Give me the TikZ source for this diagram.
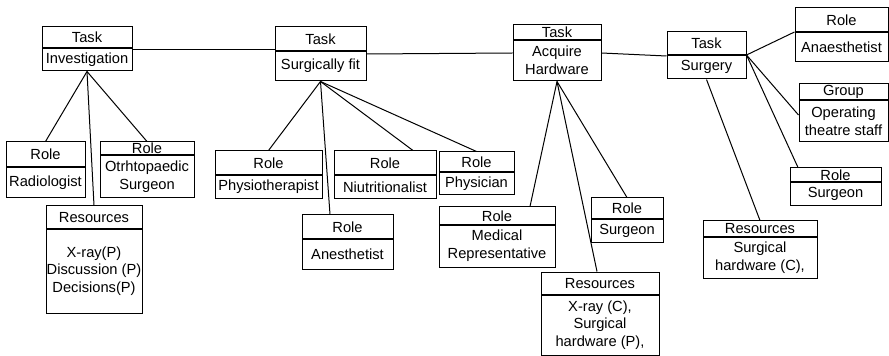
\documentclass[tikz,border=0pt]{standalone}
\usepackage{fontspec}
\setmainfont{Liberation Sans}
\usetikzlibrary{fit,calc}
\tikzset{
  boxframe/.style={draw, inner sep=0pt, line width=0.75pt},
  divider/.style={line width=1pt},
  boxtext/.style={align=center, inner sep=0pt, font=\fontsize{11}{13.3}\selectfont},
  link/.style={line width=0.75pt},
}
% two-part box: name, x1, y1, x2, y2, divider y, header, body
\newcommand\umlbox[8]{%
  \coordinate (#1-nw) at (#2,#3);
  \coordinate (#1-se) at (#4,#5);
  \node[boxframe, fit=(#1-nw)(#1-se)] (#1) {};
  \draw[divider] (#2,#6) -- (#4,#6);
  \node[boxtext] (#1-head) at ({(#2+#4)/2},{(#3+#6)/2}) {#7};
  \node[boxtext] (#1-body) at ({(#2+#4)/2},{(#6+#5)/2}) {#8};
}
\begin{document}
\begin{tikzpicture}[x=0.75pt, y=-0.75pt]
\useasboundingbox (0,0) rectangle (889,356);

% tasks
\umlbox{inv}{42}{27}{132}{71}{48}{Task}{Investigation}
\umlbox{sf}{275}{27}{366}{81}{51}{Task}{Surgically fit}
\umlbox{ah}{513}{25}{601}{81}{40}{Task}{Acquire\\Hardware}
\umlbox{srg}{667}{32}{746}{79}{55}{Task}{Surgery}

% investigation
\umlbox{rad}{6}{142}{85}{198}{167}{Role}{Radiologist}
\umlbox{orth}{100}{142}{194}{198}{155}{Role}{Otrhtopaedic\\Surgeon}
\umlbox{invres}{46}{206}{142}{313}{229}{Resources}{X-ray(P)\\Discussion (P)\\Decisions(P)}

% surgically fit
\umlbox{physio}{215}{151}{322}{199}{175}{Role}{Physiotherapist}
\umlbox{anest}{302}{215}{393}{269}{239}{Role}{Anesthetist}
\umlbox{nutr}{334}{151}{436}{199}{175}{Role}{Niutritionalist}
\umlbox{physn}{439}{152}{514}{195}{172}{Role}{Physician}

% acquire hardware
\umlbox{medrep}{439}{207}{555}{267}{225}{Role}{Medical\\Representative}
\umlbox{surg1}{591}{198}{663}{242}{219}{Role}{Surgeon}
\umlbox{ahres}{541}{272}{659}{355}{295}{Resources}{X-ray (C),\\Surgical\\hardware (P),}

% surgery
\umlbox{anaes}{795}{8}{888}{62}{32}{Role}{Anaesthetist}
\umlbox{grp}{799}{84}{888}{142}{100}{Group}{Operating\\theatre staff}
\umlbox{surg2}{790}{168}{881}{206}{182}{Role}{Surgeon}
\umlbox{srgres}{703}{221}{817}{278}{237}{Resources}{Surgical\\hardware (C),}

% task sequence
\draw[link] (inv.east |- 0,50) -- (sf.west |- 0,50);
\draw[link] (sf.east |- 0,54) -- (ah.west |- 0,53);
\draw[link] (ah.east |- 0,53) -- (srg.west |- 0,56);

% associations
\draw[link] (inv.south) -- (rad.north);
\draw[link] (inv.south) -- (orth.north);
\draw[link] (inv.south) -- (invres.north);

\draw[link] (sf.south) -- (physio.north);
\draw[link] (sf.south) -- (anest.north -| 330,0);
\draw[link] (sf.south) -- (nutr.north -| 413,0);
\draw[link] (sf.south) -- (physn.north);

\draw[link] (ah.south) -- (medrep.north -| 530,0);
\draw[link] (ah.south) -- (surg1.north);
\draw[link] (ah.south) -- (ahres.north -| 597,0);

\draw[link] (srg.south) -- (srgres.north);
\draw[link] (srg.east |- 0,55) -- (anaes.west |- 0,32);
\draw[link] (srg.east |- 0,55) -- (grp.west |- 0,115);
\draw[link] (srg.east |- 0,55) -- (surg2.north -| 798,0);
\end{tikzpicture}
\end{document}
